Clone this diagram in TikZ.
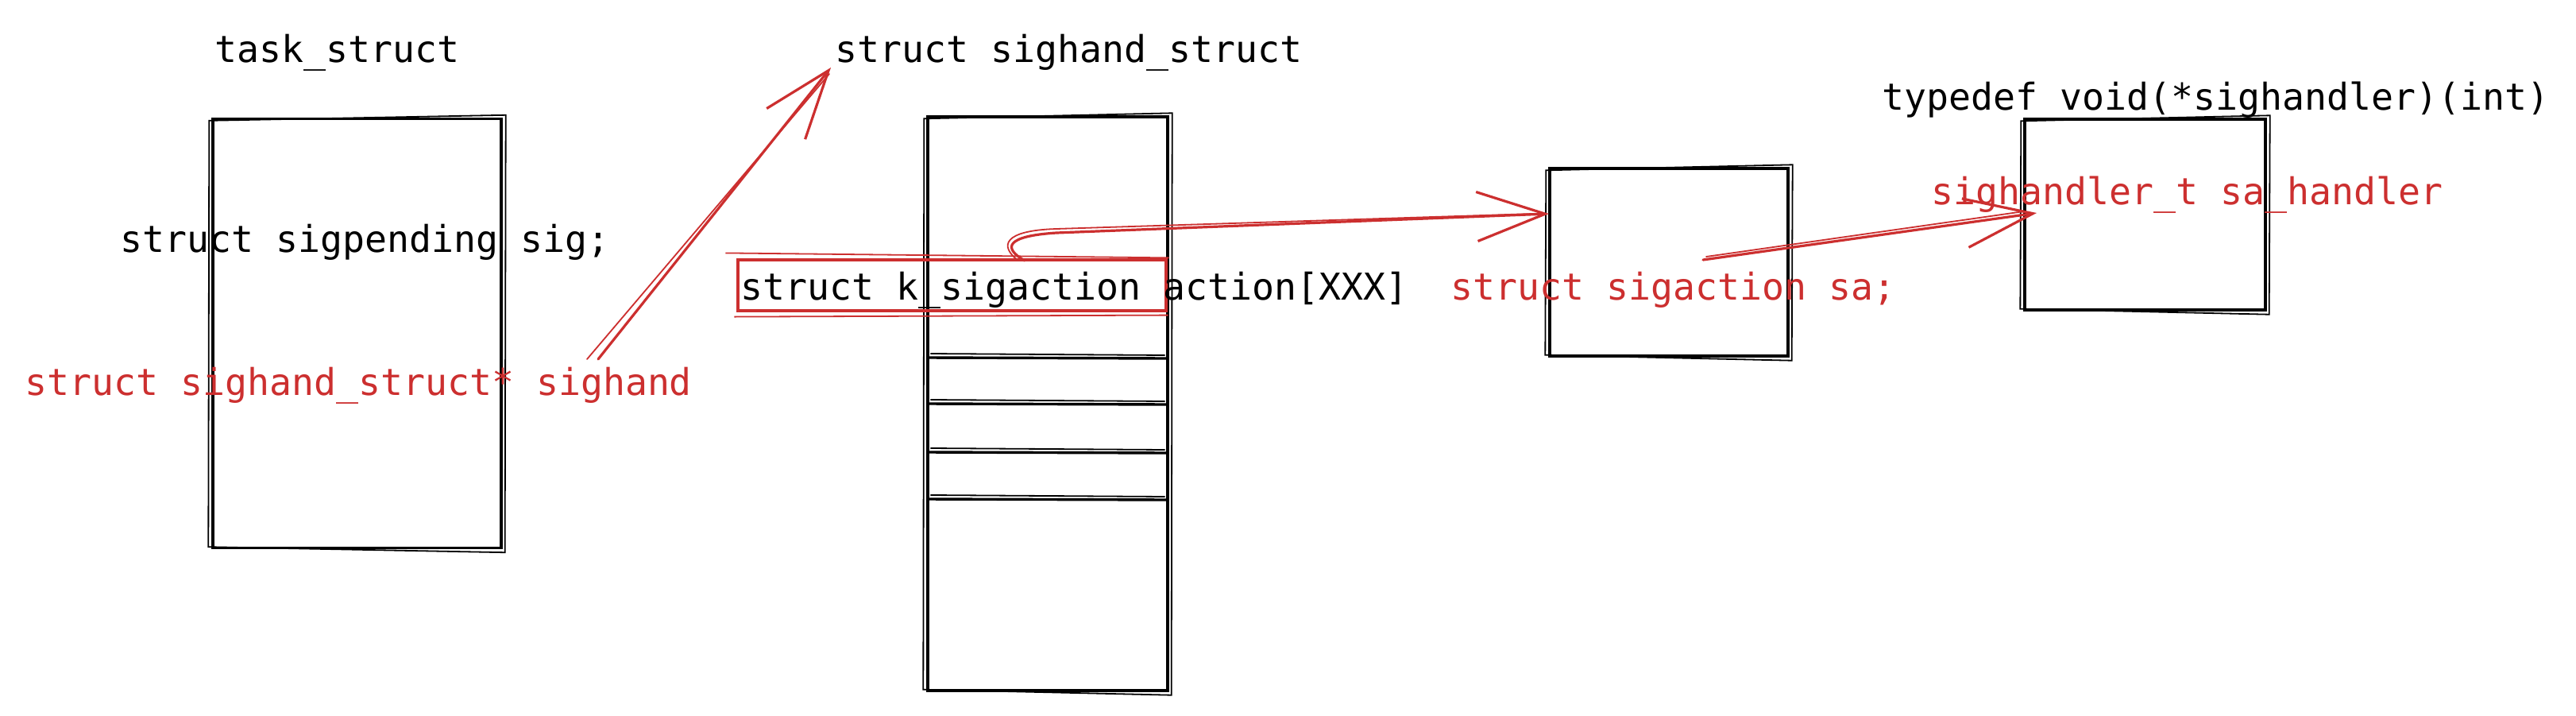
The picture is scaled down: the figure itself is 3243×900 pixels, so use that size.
\documentclass[tikz,border=0pt]{standalone}
\usepackage{fontspec}
\setmonofont{DejaVu Sans Mono}
\usetikzlibrary{arrows.meta}
\definecolor{sred}{HTML}{CC2F2F}
\tikzset{
  box/.style={draw=black, line width=3.4pt, minimum width=#1, inner sep=0pt},
  sk/.style={draw=black, line width=1.8pt},
  skred/.style={draw=sred, line width=1.8pt},
  lbl/.style={anchor=base west, inner sep=0pt, font=\ttfamily\fontsize{46.5}{55}\selectfont},
  redlbl/.style={lbl, text=sred},
  redarrow/.style={draw=sred, line width=3.2pt, line cap=round,
    -{Straight Barb[length=86pt, width=62pt, line width=3.2pt]}},
  redthin/.style={draw=sred, line width=1.8pt, line cap=round},
}
\newcommand\sketchbox[1]{%
  \draw[sk] ([shift={(-3,4)}]#1.north west) -- ([shift={(4,-3)}]#1.north east)
    -- ([shift={(3,4)}]#1.south east) -- ([shift={(-4,-3)}]#1.south west) -- cycle;}
\begin{document}
\begin{tikzpicture}[x=1pt, y=-1pt]
\useasboundingbox[fill=white] (0,0) rectangle (3243,900);

% boxes
\node[box=363pt, minimum height=540pt] (task) at (449.5,419.5) {};
\sketchbox{task}
\node[box=302pt, minimum height=722pt] (sigh) at (1319,508) {};
\sketchbox{sigh}
\node[box=300pt, minimum height=236pt] (sa) at (2101,330) {};
\sketchbox{sa}
\node[box=303pt, minimum height=240pt] (hd) at (2700.5,270) {};
\sketchbox{hd}

% separators in sighand_struct box
\foreach \yy in {450,508,569,628} {
  \draw[line width=3.4pt] (sigh.west |- 0,\yy) -- (sigh.east |- 0,\yy+1);
  \draw[sk] ([xshift=5pt]sigh.west |- 0,\yy-5) -- ([xshift=-5pt]sigh.east |- 0,\yy-3);
}

% red k_sigaction rectangle
\node[draw=sred, line width=3.2pt, minimum width=539pt, minimum height=64pt, inner sep=0pt] (kact) at (1198.5,359) {};
\draw[skred] ([shift={(-14,-7)}]kact.north west) -- ([shift={(2,-1)}]kact.north east);
\draw[skred] ([shift={(-3,6)}]kact.south west) -- ([shift={(1,4)}]kact.south east);

% labels
\node[lbl] (tasklbl) at (270,78) {task\_struct};
\node[lbl] (sighlbl) at (1051,78) {struct sighand\_struct};
\node[lbl] (sigpend) at (151,317) {struct sigpending sig;};
\node[redlbl] (sighptr) at (31,497) {struct sighand\_struct* sighand};
\node[lbl] (kactlbl) at (932,377) {struct k\_sigaction action[XXX]};
\node[redlbl] (salbl) at (1826,377) {struct sigaction sa;};
\node[lbl] (tdlbl) at (2369,138) {typedef void(*sighandler)(int)};
\node[redlbl] (hdlbl) at (2431,257) {sighandler\_t sa\_handler};

% connector end points
\coordinate (a1s) at (753,452);
\coordinate (a1e) at (1046,85);
\coordinate (a2s) at (1290,328);
\coordinate (a2e) at (1950,269);
\coordinate (a3s) at (2144,327);
\coordinate (a3e) at (2564,268);

% arrows
\draw[redarrow] (a1s) -- (a1e);
\draw[redthin] ([xshift=-14pt]a1s) -- ([shift={(-2,8)}]a1e);

\draw[redarrow] (a2s) .. controls (1262,312) and (1266,297) .. (1330,293) -- (a2e);
\draw[redthin] ([xshift=-8pt]a2s) .. controls (1258,310) and (1262,290) .. (1330,288) -- ([shift={(-20,0)}]a2e);

\draw[redarrow] (a3s) -- (a3e);
\draw[redthin] ([shift={(4,-4)}]a3s) -- ([shift={(-16,-2)}]a3e);
\end{tikzpicture}
\end{document}
